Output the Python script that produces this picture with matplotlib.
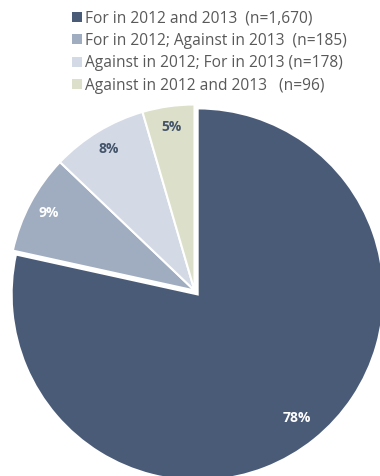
import numpy as np
import matplotlib
matplotlib.use("Agg")
import matplotlib.pyplot as plt

plt.rcParams['font.family'] = ['Open Sans', 'DejaVu Sans']

categories = ["For in 2012 and 2013  (n=1,670)",
              "For in 2012; Against in 2013  (n=185)",
              "Against in 2012; For in 2013 (n=178)",
              "Against in 2012 and 2013   (n=96)"]
counts = [1670, 185, 178, 96]
colors = ["#4A5B78", "#A0ACBF", "#D3D9E5", "#DCDFC9"]
label_colors = ["white", "white", "#44546A", "#44546A"]
explode = [0.027, 0, 0, 0]

W, H = 380, 476
fig = plt.figure(figsize=(W / 100, H / 100), dpi=100)

cx, cy, R = 194.5, 290.5, 186
ax = fig.add_axes([(cx - R) / W, (H - cy - R) / H, 2 * R / W, 2 * R / H])

total = sum(counts)
wedges, _ = ax.pie(counts, colors=colors, startangle=90, counterclock=False,
                   explode=explode, radius=1,
                   wedgeprops=dict(edgecolor='white', linewidth=1.5))
ax.set_xlim(-1, 1)
ax.set_ylim(-1, 1)
ax.set_aspect('equal')
ax.axis('off')
for w in wedges:
    w.set_clip_on(False)

pct_dist = [0.85, 0.89, 0.89, 0.89]
for w, c, col, d in zip(wedges, counts, label_colors, pct_dist):
    ang = np.deg2rad((w.theta1 + w.theta2) / 2)
    x = w.center[0] + d * w.r * np.cos(ang)
    y = w.center[1] + d * w.r * np.sin(ang)
    ax.text(x, y, f"{round(100 * c / total)}%", ha='center', va='center',
            color=col, fontsize=10, fontweight='bold')

leg = fig.legend(wedges, categories, loc='upper left',
                 bbox_to_anchor=(66 / W, 1 - 4 / H), frameon=False,
                 handlelength=0.62, handleheight=0.62, handletextpad=0.2,
                 labelspacing=0.42, fontsize=11.2, borderaxespad=0)
for t in leg.get_texts():
    t.set_color('#595959')
for h in leg.legend_handles:
    h.set_edgecolor('none')

fig.savefig("out.png", dpi=100)
